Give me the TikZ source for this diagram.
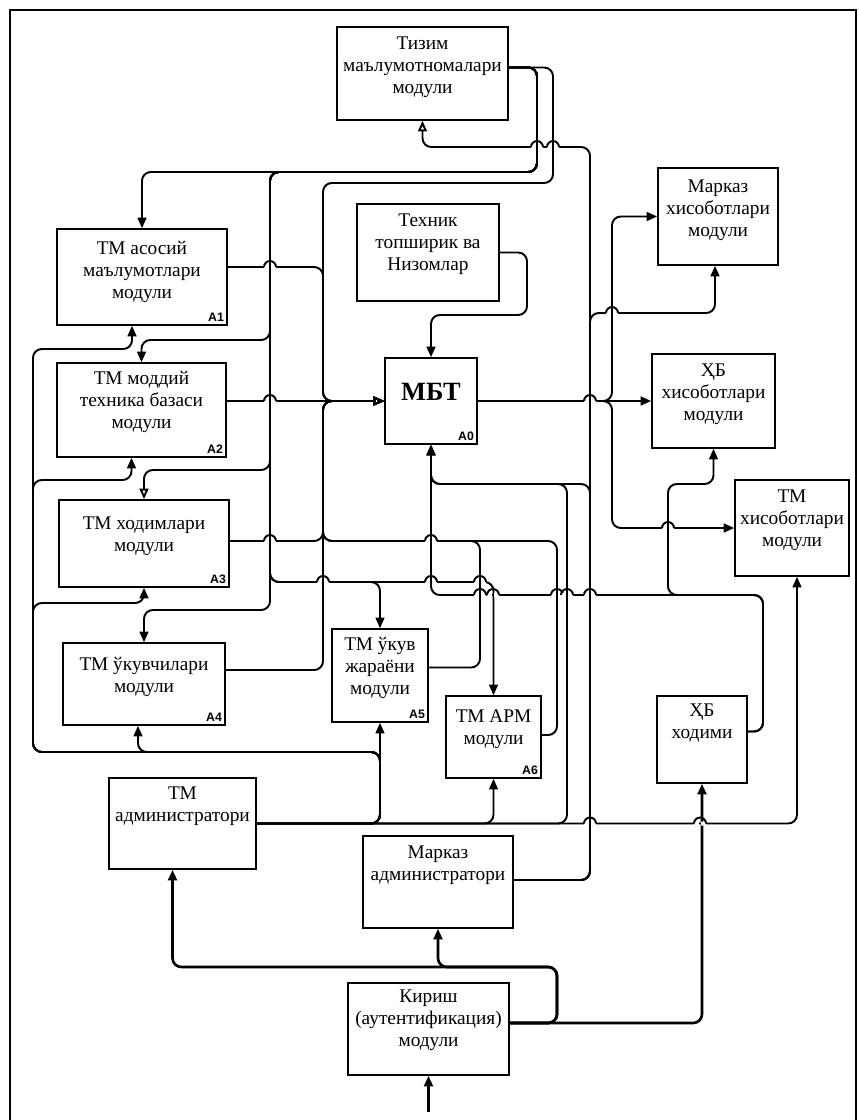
\documentclass[tikz,border=0pt]{standalone}
\usepackage{fontspec}
\setmainfont{Liberation Serif}
\setsansfont{Liberation Sans}
\usetikzlibrary{arrows.meta,calc}

\tikzset{
  blk/.style={draw, line width=0.9pt, inner sep=0pt},
  txt/.style={align=center, font=\fontsize{11}{12.5}\selectfont},
  code/.style={font=\sffamily\bfseries\fontsize{7}{8}\selectfont, anchor=south east, inner sep=2pt},
  wire/.style={draw, line width=1.1pt, rounded corners=5pt},
  thickwire/.style={wire, line width=1.5pt},
  arr/.style={-{Triangle[length=6pt,width=5pt]}},
  oarr/.style={-{Triangle[open,length=6pt,width=5pt]}},
}

% a small jump of a horizontal wire over a vertical one
\newcommand{\hop}[2]{%
  \fill[white] (#1-6,#2-2) rectangle (#1-1.1,#2+2) (#1+1.1,#2-2) rectangle (#1+6,#2+2);
  \draw[line width=1.1pt] (#1-6,#2) arc[start angle=180,end angle=0,radius=0.12cm];}

\begin{document}
\begin{tikzpicture}[x=0.02cm, y=-0.02cm]
  \useasboundingbox (0,0) rectangle (859,1120);

  % frame
  \draw[line width=0.8pt] (10,1120) -- (10,10) -- (856,10) -- (856,1120);

  % boxes
  \node[blk, minimum width=3.42cm, minimum height=1.86cm] (tiz) at (422.5,73.5) {};
  \node[txt] (tizt) at (422.5,67) {Тизим\\маълумотномалари\\модули};

  \node[blk, minimum width=3.4cm, minimum height=1.92cm] (a1) at (142,277) {};
  \node[txt] (a1t) at (142,272) {ТМ асосий\\маълумотлари\\модули};
  \node[code] (a1c) at (a1.south east) {A1};

  \node[blk, minimum width=2.84cm, minimum height=1.94cm] (tex) at (428,252.5) {};
  \node[txt] (text) at (428,244) {Техник\\топширик ва\\Низомлар};

  \node[blk, minimum width=2.4cm, minimum height=1.94cm] (mxis) at (718,216.5) {};
  \node[txt] (mxist) at (718,210) {Марказ\\хисоботлари\\модули};

  \node[blk, minimum width=1.84cm, minimum height=1.72cm] (mbt) at (431,401) {};
  \node[font=\bfseries\fontsize{15}{16}\selectfont] (mbtt) at (431,392) {МБТ};
  \node[code] (mbtc) at (mbt.south east) {A0};

  \node[blk, minimum width=3.38cm, minimum height=1.88cm] (a2) at (141.5,410) {};
  \node[txt] (a2t) at (141.5,402) {ТМ моддий\\техника базаси\\модули};
  \node[code] (a2c) at (a2.south east) {A2};

  \node[blk, minimum width=2.46cm, minimum height=1.88cm] (xbxis) at (713.5,401) {};
  \node[txt] (xbxist) at (713.5,394) {ҲБ\\хисоботлари\\модули};

  \node[blk, minimum width=2.28cm, minimum height=1.92cm] (tmxis) at (792,528) {};
  \node[txt] (tmxist) at (792,520) {ТМ\\хисоботлари\\модули};

  \node[blk, minimum width=3.4cm, minimum height=1.74cm] (a3) at (144,543.5) {};
  \node[txt] (a3t) at (144,536) {ТМ ходимлари\\модули};
  \node[code] (a3c) at (a3.south east) {A3};

  \node[blk, minimum width=3.24cm, minimum height=1.64cm] (a4) at (144,684) {};
  \node[txt] (a4t) at (144,677) {ТМ ўкувчилари\\модули};
  \node[code] (a4c) at (a4.south east) {A4};

  \node[blk, minimum width=1.92cm, minimum height=1.86cm] (a5) at (380,675.5) {};
  \node[txt] (a5t) at (380,668) {ТМ ўкув\\жараёни\\модули};
  \node[code] (a5c) at (a5.south east) {A5};

  \node[blk, minimum width=1.9cm, minimum height=1.64cm] (a6) at (493.5,737) {};
  \node[txt] (a6t) at (493.5,729) {ТМ АРМ\\модули};
  \node[code] (a6c) at (a6.south east) {A6};

  \node[blk, minimum width=1.8cm, minimum height=1.74cm] (xbx) at (702,739.5) {};
  \node[txt] (xbxt) at (702,723) {ҲБ\\ходими};

  \node[blk, minimum width=2.94cm, minimum height=1.82cm] (tmadm) at (182.5,823.5) {};
  \node[txt] (tmadmt) at (182.5,806) {ТМ\\администратори};

  \node[blk, minimum width=3.0cm, minimum height=1.84cm] (madm) at (438,882) {};
  \node[txt] (madmt) at (438,865) {Марказ\\администратори};

  \node[blk, minimum width=3.22cm, minimum height=1.84cm] (kir) at (428.5,1029) {};
  \node[txt] (kirt) at (428.5,1020) {Кириш\\(аутентификация)\\модули};

  \coordinate (inp) at (428.5,1112);

  % Тизим -> modules
  \draw[wire,arr] ($(tiz.east)+(0,-6)$) -| (537,172) -| (a1);
  \draw[wire,arr] ($(tiz.east)+(0,-6)$) -| (537,172) -| (270,340) -| (a2);
  \draw[wire,oarr] ($(tiz.east)+(0,-6)$) -| (537,172) -| (270,470) -| (a3);
  \draw[wire,arr] ($(tiz.east)+(0,-6)$) -| (537,172) -| (270,610) -| (a4);
  \draw[wire,arr] ($(tiz.east)+(0,-6)$) -| (537,172) -| (270,582) -| (a5);
  \draw[wire,arr] ($(tiz.east)+(0,-6)$) -| (537,172) -| (270,582) -| (a6);
  \draw[wire,oarr] ($(tiz.east)+(0,-6)$) -| (553,183) -| (323,401) -- (mbt.west);

  % modules -> МБТ
  \draw[wire,oarr] ($(a1.east)+(0,-10)$) -| (323,401) -- (mbt.west);
  \draw[wire,oarr] ($(a2.east)+(0,-9)$) -- (mbt.west);
  \draw[wire,oarr] ($(a3.east)+(0,-2.5)$) -| (323,401) -- (mbt.west);
  \draw[wire,oarr] ($(a4.east)+(0,-14)$) -| (323,401) -- (mbt.west);
  \draw[wire,oarr] ($(a5.east)+(0,-8)$) -| (480,541) -| (323,401) -- (mbt.west);
  \draw[wire,oarr] ($(a6.east)+(0,-2)$) -| (557,541) -| (323,401) -- (mbt.west);

  \draw[wire,arr] (tex.east) -| (527,315) -| (mbt);

  % МБТ -> reports
  \draw[wire,arr] (mbt.east) -- (xbxis.west);
  \draw[wire,arr] (mbt.east) -- (612,401) |- (mxis);
  \draw[wire,arr] (mbt.east) -- (612,401) |- (tmxis);

  % Марказ администратори
  \draw[wire,oarr] ($(madm.east)+(0,-2)$) -| (590,147) -| (tiz);
  \draw[wire,arr] ($(madm.east)+(0,-2)$) -| (590,313) -| ($(mxis.south)+(-3,0)$);
  \draw[wire,arr] ($(madm.east)+(0,-2)$) -| (590,484) -| (mbt);

  % ТМ администратори
  \draw[wire,arr] (tmadm.east) -| (a5);
  \draw[wire,arr] (tmadm.east) -| (380,752) -| ($(a4.south)+(-6,0)$);
  \draw[wire,arr] (tmadm.east) -| (380,752) -| (33,603) -| (a3);
  \draw[wire,arr] (tmadm.east) -| (380,752) -| (33,480) -| ($(a2.south)+(-10,0)$);
  \draw[wire,arr] (tmadm.east) -| (380,752) -| (33,349) -| ($(a1.south)+(-10,0)$);
  \draw[wire,arr] (tmadm.east) -| (a6);
  \draw[wire,arr] (tmadm.east) -| (567,484) -| (mbt);
  \draw[wire,arr] (tmadm.east) -| ($(tmxis.south)+(5,0)$);

  % ХБ ходими
  \draw[wire,arr] ($(xbx.east)+(0,-8)$) -| (763,595) -| (mbt);
  \draw[wire,arr] ($(xbx.east)+(0,-8)$) -| (763,595) -| (668,484) -| (xbxis);

  % Кириш
  \draw[thickwire,arr] ($(kir.east)+(0,-6)$) -| (557,967) -| ($(tmadm.south)+(-10,0)$);
  \draw[thickwire,arr] ($(kir.east)+(0,-6)$) -| (557,967) -| (madm);
  \draw[thickwire,arr] ($(kir.east)+(0,-6)$) -| (xbx);
  \draw[thickwire,arr] (inp) -- (kir);

  % jumps
  \hop{537}{147} \hop{553}{147}
  \hop{270}{267} \hop{270}{401} \hop{270}{541}
  \hop{590}{401} \hop{612}{313} \hop{668}{528}
  \hop{431}{541}
  \hop{323}{582} \hop{431}{582} \hop{480}{582}
  \hop{480}{595} \hop{493}{595} \hop{557}{595} \hop{567}{595} \hop{590}{595}
  \hop{590}{823.5} \hop{700}{823.5}
\end{tikzpicture}
\end{document}
